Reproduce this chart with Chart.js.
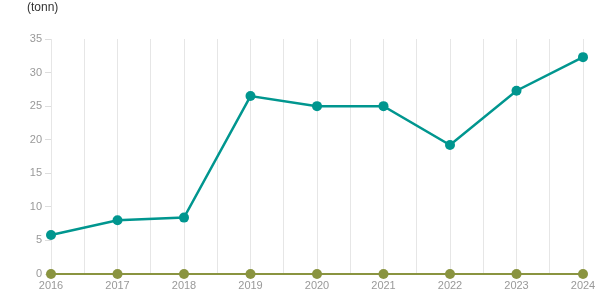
<!DOCTYPE html>
<html>
<head>
<meta charset="utf-8">
<script src="https://cdn.jsdelivr.net/npm/chart.js@4"></script>
<style>
  html, body { margin: 0; padding: 0; background: #fff; }
  #wrap { width: 615px; height: 305px; }
</style>
</head>
<body>
<div id="wrap"><canvas id="chart" width="615" height="305"></canvas></div>
<script>
const years = [2016, 2017, 2018, 2019, 2020, 2021, 2022, 2023, 2024];
const mainValues = [5.8, 8.0, 8.4, 26.5, 25.0, 25.0, 19.2, 27.3, 32.3];
const otherValues = [0, 0, 0, 0, 0, 0, 0, 0, 0];
const yTicks = [0, 5, 10, 15, 20, 25, 30, 35];
const unitLabel = "(tonn)";

const toPoints = function (vals) {
  return vals.map(function (v, i) { return { x: years[i], y: v }; });
};

const unitPlugin = {
  id: "unitLabel",
  afterDraw: function (chart) {
    const ctx = chart.ctx;
    ctx.save();
    ctx.font = "12px 'Liberation Sans', Arial, sans-serif";
    ctx.fillStyle = "#333";
    ctx.textBaseline = "top";
    ctx.fillText(unitLabel, 27, 2);
    ctx.restore();
  }
};

new Chart(document.getElementById("chart"), {
  type: "line",
  data: {
    datasets: [{
      data: toPoints(otherValues),
      borderColor: "#8a9440",
      backgroundColor: "#8a9440",
      borderWidth: 2,
      pointRadius: 5,
      pointHoverRadius: 5,
      pointBorderWidth: 0,
      clip: false
    }, {
      data: toPoints(mainValues),
      borderColor: "#00968f",
      backgroundColor: "#00968f",
      borderWidth: 2.5,
      pointRadius: 5,
      pointHoverRadius: 5,
      pointBorderWidth: 0,
      clip: false
    }]
  },
  options: {
    responsive: false,
    animation: false,
    layout: { padding: { left: 0, right: 32, top: 39, bottom: 0 } },
    plugins: {
      legend: { display: false },
      tooltip: { enabled: false }
    },
    scales: {
      x: {
        type: "linear",
        min: years[0],
        max: years[years.length - 1],
        afterBuildTicks: function (axis) {
          const t = [];
          for (let v = years[0]; v <= years[years.length - 1] + 0.01; v += 0.5) t.push({ value: v });
          axis.ticks = t;
        },
        afterFit: function (axis) { axis.height = 31; },
        grid: { color: "#e6e6e6", drawTicks: false },
        border: { display: true, color: "#999" },
        ticks: {
          autoSkip: false,
          maxRotation: 0,
          padding: 5,
          color: "#999",
          font: { family: "'Liberation Sans', Arial, sans-serif", size: 11 },
          callback: function (v) { return Number.isInteger(v) ? String(v) : ""; }
        }
      },
      y: {
        min: yTicks[0],
        max: yTicks[yTicks.length - 1],
        afterBuildTicks: function (axis) {
          axis.ticks = yTicks.map(function (v) { return { value: v }; });
        },
        afterFit: function (axis) { axis.width = 51; },
        grid: { drawOnChartArea: false, tickLength: 6, color: "#dddddd" },
        border: { display: false },
        ticks: {
          padding: 3,
          color: "#999",
          font: { family: "'Liberation Sans', Arial, sans-serif", size: 11 }
        }
      }
    }
  },
  plugins: [unitPlugin]
});
</script>
</body>
</html>
